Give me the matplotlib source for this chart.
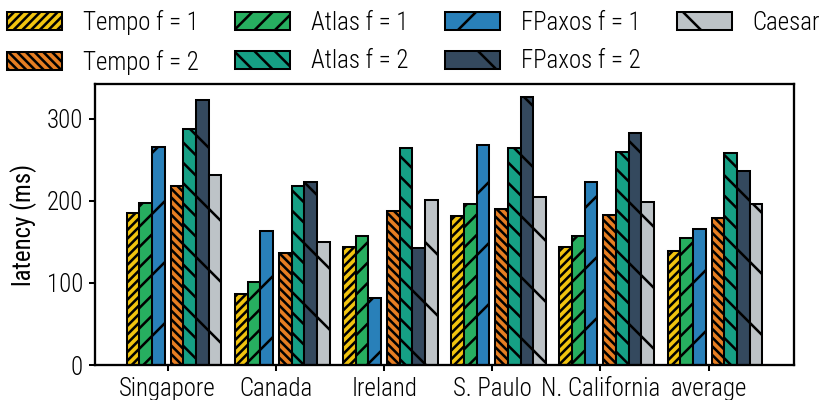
import matplotlib
matplotlib.use("Agg")
import matplotlib.pyplot as plt
from matplotlib import font_manager
import numpy as np

# --- data -------------------------------------------------------------
categories = ["Singapore", "Canada", "Ireland", "S. Paulo", "N. California", "average"]

tempo_f1 = [185, 87, 144, 182, 144, 139]
atlas_f1 = [197, 101, 157, 196, 157, 155]
fpaxos_f1 = [265, 163, 82, 268, 223, 166]
tempo_f2 = [218, 136, 188, 190, 183, 179]
atlas_f2 = [287, 218, 264, 264, 259, 258]
fpaxos_f2 = [323, 223, 142, 326, 283, 236]
caesar = [231, 150, 201, 205, 199, 196]

series_labels = ["Tempo f = 1", "Atlas f = 1", "FPaxos f = 1",
                 "Tempo f = 2", "Atlas f = 2", "FPaxos f = 2", "Caesar"]
series_values = [tempo_f1, atlas_f1, fpaxos_f1, tempo_f2, atlas_f2, fpaxos_f2, caesar]

# --- style --------------------------------------------------------------
colors = ["#F1C40F", "#27AE60", "#2980B9", "#E67E22", "#16A085", "#34495E", "#BDC3C7"]
hatches = ["///////", "///", "/", "\\" * 7, "\\" * 3, "\\", "\\"]
offsets = [-0.320, -0.203, -0.086, 0.086, 0.203, 0.320, 0.437]
bar_width = 0.117

DPI = 183
W, H = 822, 400


def pick_font(names):
    for n in names:
        try:
            font_manager.findfont(n, fallback_to_default=False)
            return n
        except Exception:
            continue
    return "DejaVu Sans"


family = pick_font(["Roboto Condensed", "Liberation Sans Narrow", "Liberation Sans"])
plt.rcParams["font.family"] = [family, "DejaVu Sans"]
plt.rcParams["font.weight"] = "light"
plt.rcParams["hatch.linewidth"] = 1.0
plt.rcParams["hatch.color"] = "black"

FS = 9.8
fig = plt.figure(figsize=(W / DPI, H / DPI), dpi=DPI)
ax = fig.add_axes([95 / W, 1 - 365 / H, (794 - 95) / W, (365 - 84) / H])

x = np.arange(len(categories))
handles = []
for vals, lab, col, hat, off in zip(series_values, series_labels, colors, hatches, offsets):
    b = ax.bar(x + off, vals, bar_width, color=col, hatch=hat,
               edgecolor="black", linewidth=0.8, label=lab)
    handles.append(b)

ax.set_xticks(x)
ax.set_xticklabels(categories, fontsize=FS)
ax.tick_params(axis="y", labelsize=FS)
ax.tick_params(length=2.2, width=0.8, pad=2.5)
ax.set_yticks([0, 100, 200, 300])
ax.set_ylabel("latency (ms)", fontsize=FS, labelpad=4)
for s in ax.spines.values():
    s.set_linewidth(0.9)

# legend filled column by column: f = 1 on the top row, f = 2 below
order = [0, 3, 1, 4, 2, 5, 6]
fig.legend([handles[i] for i in order], [series_labels[i] for i in order],
           ncol=4, loc="upper left", bbox_to_anchor=(0.0, 0.995),
           frameon=False, fontsize=FS, handlelength=2.2, handleheight=0.75,
           handletextpad=0.85, columnspacing=1.45, labelspacing=0.6,
           borderaxespad=0.0, borderpad=0.3)

fig.savefig("out.png", dpi=DPI)
